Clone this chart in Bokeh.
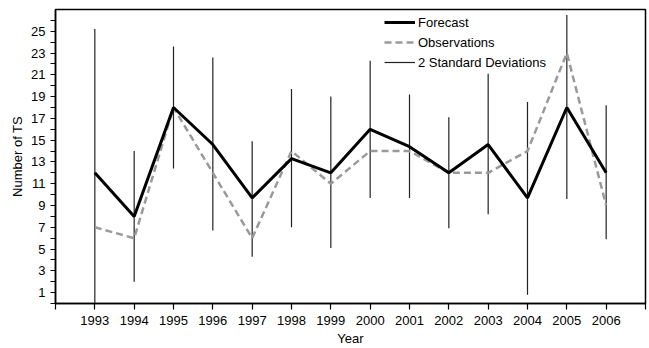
from bokeh.plotting import figure
from bokeh.models import ColumnDataSource, FixedTicker, Legend, LegendItem, Range1d
from bokeh.embed import file_html
from bokeh.resources import INLINE

years = list(range(1993, 2007))
forecast = [12, 8, 18, 14.6, 9.7, 13.3, 12, 16, 14.4, 12, 14.6, 9.7, 18, 12]
observations = [7, 6, 18, 12, 6, 14, 11, 14, 14, 12, 12, 14, 23, 9]
sd_upper = [25.2, 14.0, 23.6, 22.6, 14.9, 19.7, 19.0, 22.3, 19.2, 17.1, 21.1, 18.5, 26.5, 18.2]
sd_lower = [-1.2, 2.0, 12.4, 6.7, 4.3, 7.0, 5.1, 9.7, 9.7, 6.9, 8.2, 0.8, 9.6, 5.9]
x_ticks = list(range(1992, 2008))
y_major = list(range(1, 26, 2))
y_minor = list(range(0, 28, 2))

FONT = "Liberation Sans"

src = ColumnDataSource(dict(year=years, fc=forecast, obs=observations,
                            lo=sd_lower, hi=sd_upper))

p = figure(width=649, height=348, output_backend="svg", toolbar_location=None,
           x_range=Range1d(1992, 2007), y_range=Range1d(0, 27),
           min_border_left=55, min_border_right=4, min_border_top=9, min_border_bottom=43)

p.xgrid.visible = False
p.ygrid.visible = False
p.outline_line_color = "black"
p.outline_line_width = 1.5
p.background_fill_color = "white"

bars = p.segment(x0="year", y0="lo", x1="year", y1="hi", source=src,
                 line_color="#222222", line_width=1.2)
obs = p.line("year", "obs", source=src, line_color="#9a9a9a", line_width=2.5,
             line_dash="7 4")
fc = p.line("year", "fc", source=src, line_color="black", line_width=3)

# x axis
xa = p.xaxis[0]
xa.ticker = FixedTicker(ticks=x_ticks)
xa.major_label_overrides = {1992: "", 2007: ""}
xa.axis_label = "Year"
xa.major_tick_out = 6
xa.major_tick_in = 0
xa.minor_tick_out = 0
xa.minor_tick_in = 0
xa.major_label_standoff = 6
xa.axis_label_standoff = 3
xa.axis_line_width = 1.5
xa.major_tick_line_width = 1.2

# y axis
ya = p.yaxis[0]
ya.ticker = FixedTicker(ticks=y_major, minor_ticks=y_minor)
ya.axis_label = "Number of TS"
ya.major_tick_out = 5
ya.major_tick_in = 0
ya.minor_tick_out = 5
ya.minor_tick_in = 0
ya.major_label_standoff = 5
ya.axis_label_standoff = 3
ya.axis_line_width = 1.5
ya.major_tick_line_width = 1.2
ya.minor_tick_line_width = 1.2
ya.minor_tick_line_color = "black"

for ax in (xa, ya):
    ax.major_label_text_font = FONT
    ax.major_label_text_font_size = "13px"
    ax.major_label_text_color = "black"
    ax.axis_label_text_font = FONT
    ax.axis_label_text_font_size = "13px"
    ax.axis_label_text_font_style = "normal"
    ax.axis_label_text_color = "black"
    ax.axis_line_color = "black"
    ax.major_tick_line_color = "black"

legend = Legend(items=[LegendItem(label="Forecast", renderers=[fc]),
                       LegendItem(label="Observations", renderers=[obs]),
                       LegendItem(label="2 Standard Deviations", renderers=[bars])],
                location=(329, 231))
legend.border_line_color = None
legend.background_fill_alpha = 0
legend.padding = 0
legend.margin = 0
legend.spacing = 0
legend.glyph_width = 31
legend.glyph_height = 20
legend.label_height = 20
legend.label_standoff = 3
legend.label_text_font = FONT
legend.label_text_font_size = "13px"
legend.label_text_color = "black"
p.add_layout(legend, "center")

open("out.html", "w").write(file_html(p, INLINE))
